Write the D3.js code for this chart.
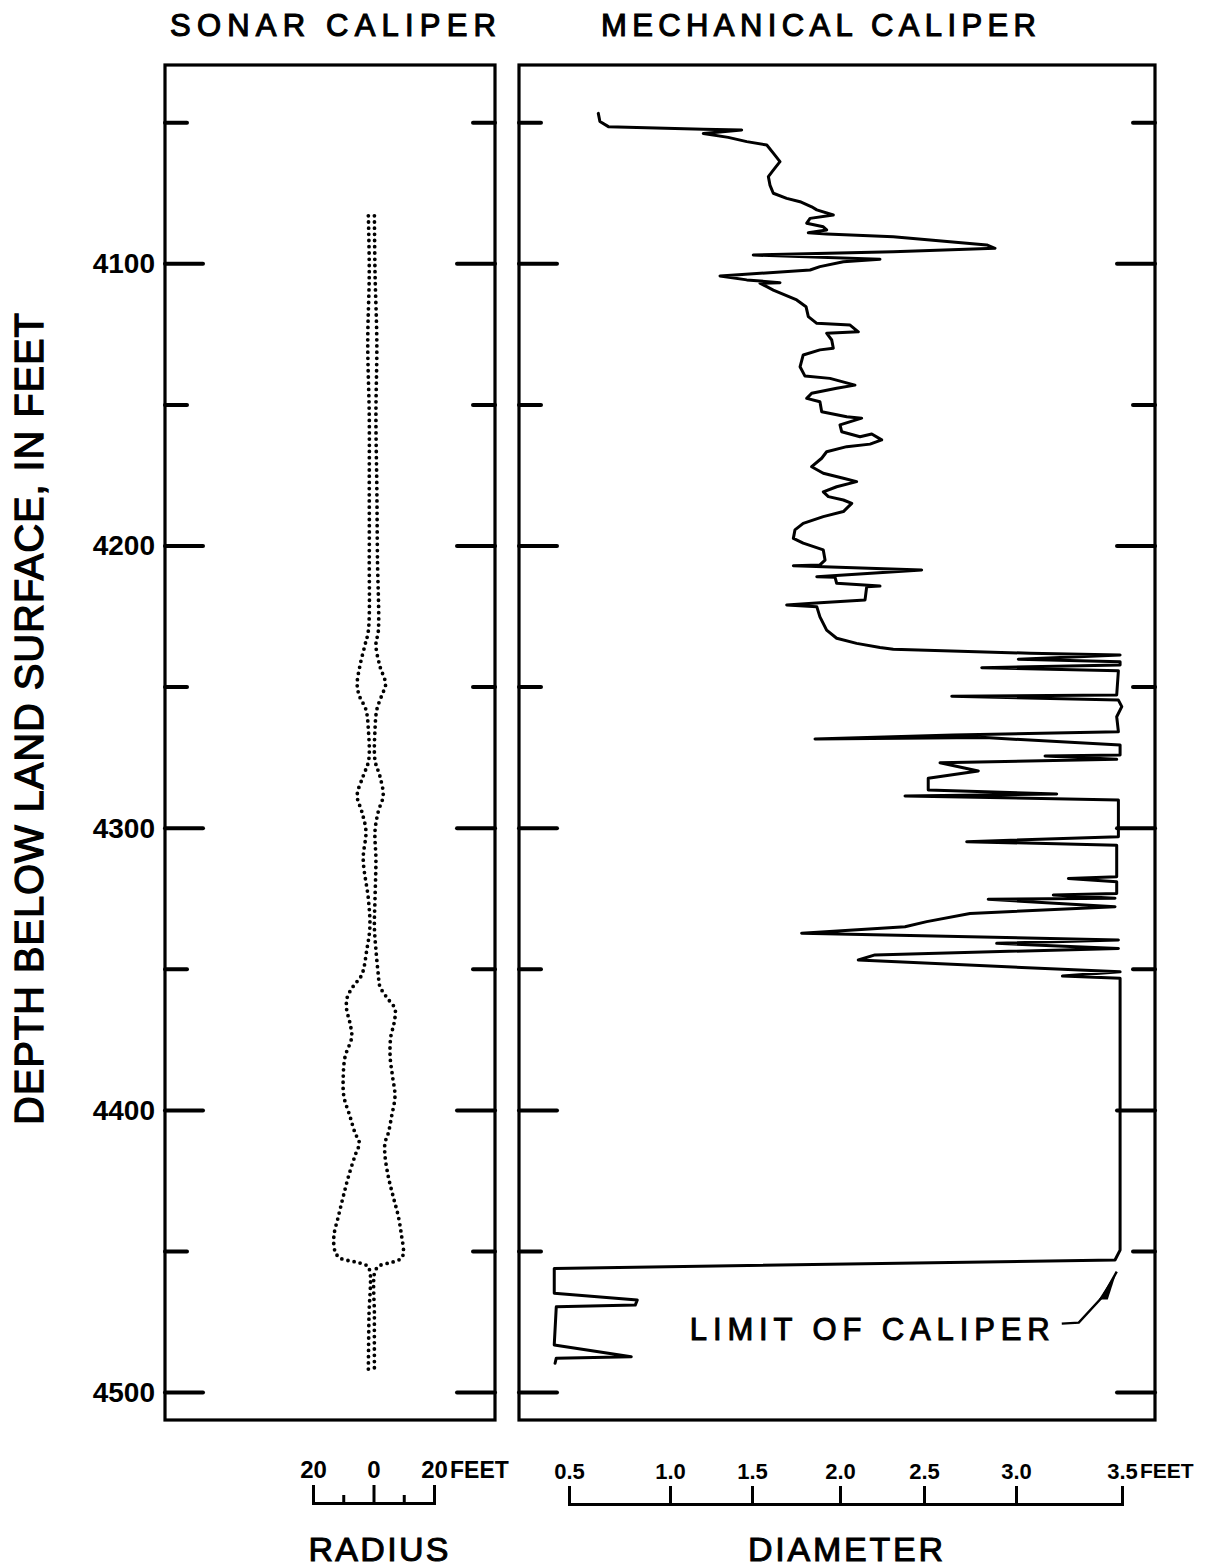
<!DOCTYPE html>
<html>
<head>
<meta charset="utf-8">
<script src="https://cdn.jsdelivr.net/npm/d3@7"></script>
<style>
body { margin: 0; background: #fff; }
svg text { font-family: "Liberation Sans", Arial, sans-serif; fill: #000; }
</style>
</head>
<body>
<svg id="chart" width="1220" height="1567"></svg>
<script>
// depth ticks, every 50 ft, labels every 100 ft
var depthTicks = [4050, 4100, 4150, 4200, 4250, 4300, 4350, 4400, 4450, 4500];
var depthLabels = [4100, 4200, 4300, 4400, 4500];

// sonar caliper: radius of left and right wall (ft) by depth
var sonarDepth = [4083, 4103, 4128, 4154, 4179, 4204, 4230, 4235, 4242.5, 4249, 4253, 4258, 4265, 4276,
  4281.5, 4288.5, 4294, 4301, 4311, 4325, 4335, 4343, 4352, 4356, 4360, 4364, 4369, 4374, 4381, 4388,
  4395, 4402, 4408, 4411.5, 4416, 4423.5, 4430.5, 4437.5, 4444.6, 4450, 4452.3, 4453.7, 4455, 4457, 4473, 4492];
var sonarLeft = [-1.7, -1.4, -1.9, -1.4, -1.4, -1.4, -1.7, -2.8, -4.5, -5.4, -4.7, -2.5, -1.7, -1.6,
  -3.4, -5.4, -3.9, -2.5, -3.4, -1.7, -1.2, -2.2, -3.9, -6.7, -8.7, -8.9, -7.8, -7.2, -9.4, -10.0,
  -9.8, -7.8, -6.1, -4.7, -6.1, -8.3, -10.0, -11.6, -13.1, -12.7, -11.1, -6.1, -2.2, -1.2, -1.5, -1.7];
var sonarRight = [0.3, 0.5, 1.1, 0.8, 1.1, 1.3, 1.6, 0.8, 2.1, 4.0, 2.7, 1.1, 0.5, 0.5,
  2.1, 3.2, 1.6, 0.5, 0.8, 0.5, 0.3, 0.8, 1.6, 2.1, 4.4, 7.1, 6.8, 5.7, 5.5, 6.3,
  7.1, 6.0, 4.9, 3.8, 3.8, 4.9, 6.5, 8.2, 9.3, 9.9, 9.3, 6.5, 2.1, 0.5, 0.3, 0.3];

// mechanical caliper trace: depth (ft) and diameter (ft), in drawing order
var mechDepth = [4046.7, 4049.6, 4051.4, 4052.3, 4052.6, 4053.8, 4055.2, 4056.7, 4057.9, 4060.8,
  4063.8, 4066.8, 4069.1, 4072.1, 4075.0, 4076.8, 4078.0, 4079.8, 4080.9, 4082.7,
  4083.9, 4085.6, 4086.9, 4088.0, 4089.0, 4089.4, 4090.4, 4093.3, 4094.5, 4095.7,
  4096.9, 4098.4, 4099.3, 4101.0, 4102.2, 4104.3, 4105.7, 4106.7, 4106.9, 4108.1,
  4109.3, 4112.8, 4115.2, 4118.7, 4121.1, 4121.7, 4124.1, 4124.6, 4127.0, 4129.9,
  4130.5, 4132.3, 4136.5, 4139.8, 4140.6, 4143.0, 4144.1, 4145.9, 4147.7, 4148.9,
  4152.4, 4154.2, 4154.7, 4157.1, 4159.5, 4161.3, 4160.3, 4162.4, 4163.9, 4164.8,
  4166.6, 4168.9, 4171.9, 4174.2, 4176.0, 4177.2, 4179.0, 4180.8, 4182.5, 4183.7,
  4184.9, 4187.8, 4189.6, 4192.0, 4194.3, 4197.3, 4199.0, 4201.4, 4205.0, 4206.7,
  4207.0, 4208.5, 4210.9, 4211.1, 4213.2, 4214.2, 4214.4, 4219.1, 4220.1, 4220.9,
  4221.5, 4225.1, 4229.8, 4232.7, 4234.5, 4236.0, 4236.6, 4238.0, 4238.6, 4240.1,
  4241.0, 4242.2, 4243.1, 4244.2, 4252.8, 4253.2, 4254.6, 4256.9, 4260.5, 4265.8,
  4267.0, 4268.4, 4267.9, 4270.5, 4274.1, 4274.4, 4275.6, 4276.8, 4279.7, 4282.3,
  4286.5, 4287.9, 4288.6, 4290.0, 4303.0, 4304.8, 4306.0, 4317.2, 4317.8, 4319.0,
  4323.1, 4323.7, 4324.8, 4325.2, 4327.8, 4330.2, 4333.1, 4334.9, 4337.2, 4339.6,
  4340.8, 4342.6, 4344.9, 4346.7, 4350.9, 4352.4, 4353.2, 4399.9, 4449.5, 4453.0,
  4456.0, 4464.8, 4467.2, 4469.0, 4469.6, 4483.1, 4487.3, 4487.8, 4489.6];
var mechDiam = [0.645, 0.653, 0.695, 1.203, 1.437, 1.203, 1.355, 1.468, 1.584, 1.621,
  1.659, 1.621, 1.593, 1.602, 1.621, 1.697, 1.773, 1.839, 1.868, 1.962,
  1.830, 1.811, 1.905, 1.924, 1.820, 1.924, 2.317, 2.841, 2.886, 2.317,
  1.507, 2.238, 2.020, 1.886, 1.830, 1.305, 1.468, 1.659, 1.545, 1.584,
  1.621, 1.754, 1.807, 1.820, 1.868, 2.060, 2.109, 1.924, 1.953, 1.962,
  1.886, 1.791, 1.773, 1.801, 1.943, 2.089, 1.981, 1.839, 1.811, 1.886,
  1.896, 2.040, 2.129, 2.000, 2.010, 2.119, 2.189, 2.248, 2.179, 2.040,
  1.924, 1.896, 1.839, 1.905, 2.020, 2.099, 1.981, 1.905, 1.934, 2.020,
  2.070, 2.020, 1.905, 1.791, 1.744, 1.735, 1.791, 1.905, 1.915, 1.886,
  1.735, 2.486, 1.868, 1.972, 1.981, 2.238, 2.159, 2.149, 1.886, 1.697,
  1.868, 1.886, 1.924, 1.981, 2.099, 2.238, 2.317, 3.066, 3.491, 3.011,
  3.491, 3.491, 2.814, 3.483, 3.475, 2.651, 3.483, 3.499, 3.475, 3.483,
  2.659, 1.858, 2.832, 3.491, 3.491, 3.137, 3.475, 2.587, 2.795, 2.523,
  2.523, 3.192, 2.387, 3.483, 3.483, 2.732, 3.475, 3.475, 3.247, 3.475,
  3.475, 3.176, 3.467, 2.849, 3.467, 2.750, 2.515, 2.387, 1.782, 3.483,
  2.895, 3.483, 2.208, 2.109, 3.491, 3.219, 3.491, 3.491, 3.491, 3.467,
  0.427, 0.427, 0.838, 0.828, 0.437, 0.427, 0.808, 0.437, 0.431];

var radiusTicks = [-20, 0, 20];
var radiusMinor = [-10, 10];
var diamTicks = [0.5, 1.0, 1.5, 2.0, 2.5, 3.0, 3.5];

var svg = d3.select('#chart');

var panelTop = 65, panelBottom = 1420;
var leftPanel = {x0: 165, x1: 495},
    rightPanel = {x0: 519, x1: 1155};

var y = d3.scaleLinear().domain([4100, 4500]).range([263.8, 1392.6]);
var xr = d3.scaleLinear().domain([-20, 20]).range([313, 434]);
// the printed diameter scale is hand drawn, ticks are not evenly spaced
var xd = d3.scaleLinear().domain(diamTicks).range([569, 670, 752, 840, 924, 1016, 1122]);

// panels
[leftPanel, rightPanel].forEach(function(p) {
    svg.append('rect')
        .attr('x', p.x0).attr('y', panelTop)
        .attr('width', p.x1 - p.x0).attr('height', panelBottom - panelTop)
        .attr('fill', 'none').attr('stroke', '#000').attr('stroke-width', 3.2);

    var t = svg.append('g').attr('class', 'ticks');
    t.selectAll('line.l').data(depthTicks).enter().append('line')
        .attr('x1', p.x0).attr('x2', function(d) { return p.x0 + (d % 100 == 0 ? 38 : 22); })
        .attr('y1', y).attr('y2', y)
        .attr('stroke', '#000').attr('stroke-width', 4).attr('stroke-linecap', 'round');
    t.selectAll('line.r').data(depthTicks).enter().append('line')
        .attr('x1', p.x1).attr('x2', function(d) { return p.x1 - (d % 100 == 0 ? 38 : 22); })
        .attr('y1', y).attr('y2', y)
        .attr('stroke', '#000').attr('stroke-width', 4).attr('stroke-linecap', 'round');
});

// depth labels
var ya = svg.append('g')
    .attr('transform', 'translate(' + (leftPanel.x0 - 2) + ',0)')
    .call(d3.axisLeft(y).tickValues(depthLabels).tickSize(0).tickPadding(8).tickFormat(d3.format('d')));
ya.select('.domain').remove();
ya.selectAll('text')
    .attr('font-family', '"Liberation Sans", Arial, sans-serif')
    .attr('font-size', 28).attr('font-weight', 'bold');

svg.append('text')
    .attr('transform', 'translate(43,719) rotate(-90)')
    .attr('text-anchor', 'middle')
    .attr('font-size', 40)
    .attr('stroke', '#000').attr('stroke-width', 1.3)
    .attr('textLength', 812).attr('lengthAdjust', 'spacing')
    .text('DEPTH BELOW LAND SURFACE, IN FEET');

// titles
svg.append('text').attr('x', 170).attr('y', 36)
    .attr('font-size', 31).attr('stroke', '#000').attr('stroke-width', 1.1)
    .attr('textLength', 326).attr('lengthAdjust', 'spacing')
    .text('SONAR CALIPER');
svg.append('text').attr('x', 601).attr('y', 36)
    .attr('font-size', 31).attr('stroke', '#000').attr('stroke-width', 1.1)
    .attr('textLength', 435).attr('lengthAdjust', 'spacing')
    .text('MECHANICAL CALIPER');

// sonar caliper, dotted walls
var sonarLine = function(vals) {
    return d3.line()
        .x(function(d, i) { return xr(vals[i]); })
        .y(function(d) { return y(d); })
        .curve(d3.curveCatmullRom.alpha(0.5))(sonarDepth);
};
[sonarLeft, sonarRight].forEach(function(vals) {
    svg.append('path')
        .attr('d', sonarLine(vals))
        .attr('fill', 'none').attr('stroke', '#000')
        .attr('stroke-width', 3.8).attr('stroke-linecap', 'round')
        .attr('stroke-dasharray', '0 6.2');
});

// mechanical caliper trace
var mechLine = d3.line()
    .x(function(d, i) { return xd(mechDiam[i]); })
    .y(function(d) { return y(d); });
svg.append('path')
    .attr('d', mechLine(mechDepth))
    .attr('fill', 'none').attr('stroke', '#000')
    .attr('stroke-width', 3).attr('stroke-linejoin', 'round').attr('stroke-linecap', 'round');

// limit of caliper note
var ax = xd(3.48), ay = y(4455);
svg.append('path')
    .attr('d', 'M' + (ax - 56) + ',' + (ay + 58) + 'L' + (ax - 39) + ',' + (ay + 57) + 'L' + (ax - 15) + ',' + (ay + 31) + 'L' + (ax - 1) + ',' + (ay + 6))
    .attr('fill', 'none').attr('stroke', '#000').attr('stroke-width', 2.4);
svg.append('path')
    .attr('d', 'M' + (ax - 19) + ',' + (ay + 34) + 'L' + (ax - 1) + ',' + (ay + 6) + 'L' + (ax - 10) + ',' + (ay + 34) + 'Z')
    .attr('fill', '#000');
svg.append('text').attr('x', ax - 428).attr('y', ay + 74)
    .attr('font-size', 31).attr('stroke', '#000').attr('stroke-width', 1)
    .attr('textLength', 360).attr('lengthAdjust', 'spacing')
    .text('LIMIT OF CALIPER');

// radius scale bracket
var ra = svg.append('g').attr('transform', 'translate(0,1503)')
    .call(d3.axisTop(xr).tickValues(radiusTicks).tickSizeInner(18).tickSizeOuter(18).tickPadding(7)
        .tickFormat(function(d) { return Math.abs(d); }));
svg.append('g').attr('transform', 'translate(0,1503)')
    .call(d3.axisTop(xr).tickValues(radiusMinor).tickSize(8).tickFormat(''))
    .select('.domain').remove();

// diameter scale bracket
var da = svg.append('g').attr('transform', 'translate(0,1504)')
    .call(d3.axisTop(xd).tickValues(diamTicks).tickSizeInner(18).tickSizeOuter(18).tickPadding(7)
        .tickFormat(d3.format('.1f')));

svg.selectAll('.tick line, .domain').attr('stroke', '#000').attr('stroke-width', 3);
ra.selectAll('text').attr('font-family', '"Liberation Sans", Arial, sans-serif').attr('font-size', 24).attr('font-weight', 'bold');
da.selectAll('text').attr('font-family', '"Liberation Sans", Arial, sans-serif').attr('font-size', 22).attr('font-weight', 'bold');

svg.append('text').attr('x', xr(20) + 16).attr('y', 1478)
    .attr('font-size', 23).attr('font-weight', 'bold').text('FEET');
svg.append('text').attr('x', xd(3.5) + 18).attr('y', 1478)
    .attr('font-size', 21).attr('font-weight', 'bold').text('FEET');

svg.append('text').attr('x', (xr(-20) + xr(20)) / 2 + 5).attr('y', 1561)
    .attr('text-anchor', 'middle').attr('font-size', 34)
    .attr('stroke', '#000').attr('stroke-width', 1)
    .attr('textLength', 140).attr('lengthAdjust', 'spacing')
    .text('RADIUS');
svg.append('text').attr('x', (xd(0.5) + xd(3.5)) / 2).attr('y', 1561)
    .attr('text-anchor', 'middle').attr('font-size', 34)
    .attr('stroke', '#000').attr('stroke-width', 1)
    .attr('textLength', 195).attr('lengthAdjust', 'spacing')
    .text('DIAMETER');
</script>
</body>
</html>
